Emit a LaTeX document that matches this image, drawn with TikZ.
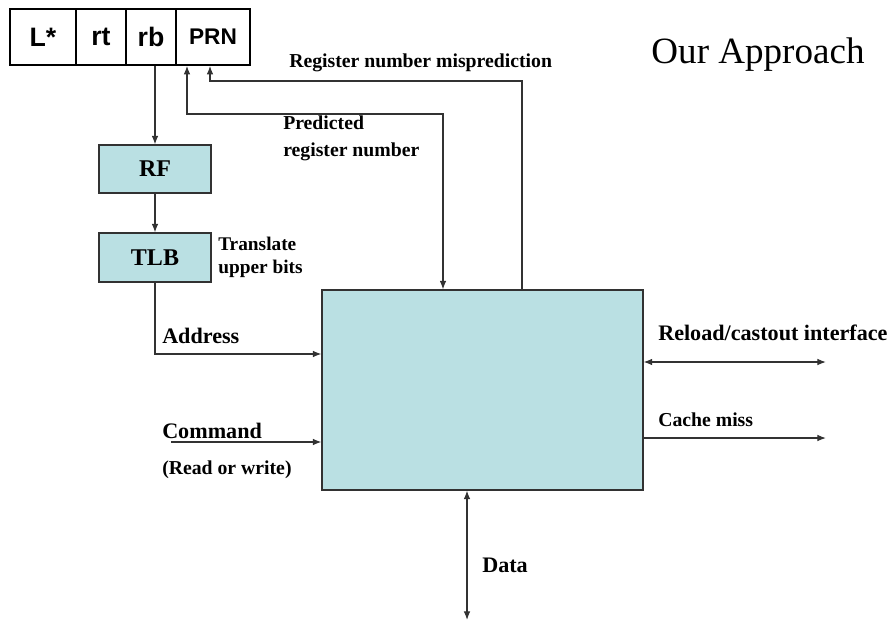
\documentclass[tikz,border=0pt]{standalone}
\usepackage{fontspec}
\setmainfont{Liberation Serif}
\newfontfamily\fieldfont{Liberation Sans}
\usetikzlibrary{arrows.meta}
\definecolor{cachefill}{RGB}{186,224,227}
\definecolor{edgegrey}{RGB}{50,50,50}
\tikzset{
  field/.style={draw=black,line width=1.2pt,minimum height=42pt,inner sep=0pt,font=\fieldfont\bfseries\fontsize{20}{22}\selectfont},
  unit/.style={draw=edgegrey,fill=cachefill,line width=0.8pt,inner sep=0pt,font=\bfseries\fontsize{18}{20}\selectfont},
  lbl/.style={anchor=west,inner sep=0pt,align=left,font=\bfseries\fontsize{14.8}{20.25}\selectfont},
  biglbl/.style={lbl,font=\bfseries\fontsize{16.6}{20}\selectfont},
  wire/.style={draw=edgegrey,line width=0.9pt,-{Latex[length=6.5pt,width=5pt]}}
}
\begin{document}
\begin{tikzpicture}[x=0.75pt,y=-0.75pt]
      \useasboundingbox (0,0) rectangle (895,627);
      \draw
        (43,37) node[field,minimum width=49.5pt] (fL){L*}
        (101,37) node[field,minimum width=37.5pt] (fRt){rt}
        (151,37) node[field,minimum width=37.5pt] (fRb){rb}
        (213,37) node[field,minimum width=55.5pt,font=\fieldfont\bfseries\fontsize{17}{19}\selectfont] (fPRN){PRN}
        (155,169) node[unit,minimum width=84pt,minimum height=36pt] (RF){RF}
        (155,257.5) node[unit,minimum width=84pt,minimum height=36.75pt] (TLB){TLB}
        (482.5,390) node[unit,minimum width=240.75pt,minimum height=150pt] (cache){};
      \coordinate (pIn) at ([xshift=-29.625pt]cache.north);
      \coordinate (mOut) at ([xshift=29.625pt]cache.north);
      \coordinate (cmd) at (171,442);
      \coordinate (dat) at (467,620);
      \coordinate (rel) at (826,362);
      \coordinate (miss) at (826,438);
      \begin{scope}[wire]
        \draw (RF.north |- fRb.south) to (RF.north);
        \draw (RF) to (TLB);
        \draw (TLB.south) |- (cache.west |- 0,354);
        \draw (cmd) to (cmd -| cache.west);
        \draw (mOut) -- (mOut |- 0,81) -| ([xshift=-2.25pt]fPRN.south);
        \draw (miss -| cache.east) to (miss);
      \end{scope}
      \begin{scope}[wire,{Latex[length=6.5pt,width=5pt]}-{Latex[length=6.5pt,width=5pt]}]
        \draw ([xshift=-19.5pt]fPRN.south) |- (pIn |- 0,114) -- (pIn);
        \draw (cache.south -| dat) to (dat);
        \draw (rel -| cache.east) to (rel);
      \end{scope}
      \node[lbl] (mispred) at (289,63) {Register number misprediction};
      \node[lbl,anchor=north west] (pred) at (283,116) {Predicted\\register number};
      \node[lbl,font=\bfseries\fontsize{14.5}{17.25}\selectfont] (transl) at (218,257) {Translate\\upper bits};
      \node[biglbl] (addr) at (162,336) {Address};
      \node[biglbl] (cmdlbl) at (162,431) {Command};
      \node[lbl] (rw) at (162,470) {(Read or write)};
      \node[biglbl] (datlbl) at (482,565) {Data};
      \node[biglbl] (rellbl) at (658,333) {Reload/castout interface};
      \node[lbl] (misslbl) at (658,420) {Cache miss};
      \node[inner sep=0pt,font=\fontsize{27.8}{30}\selectfont] (title) at (758,55) {Our Approach};
    \end{tikzpicture}
\end{document}
